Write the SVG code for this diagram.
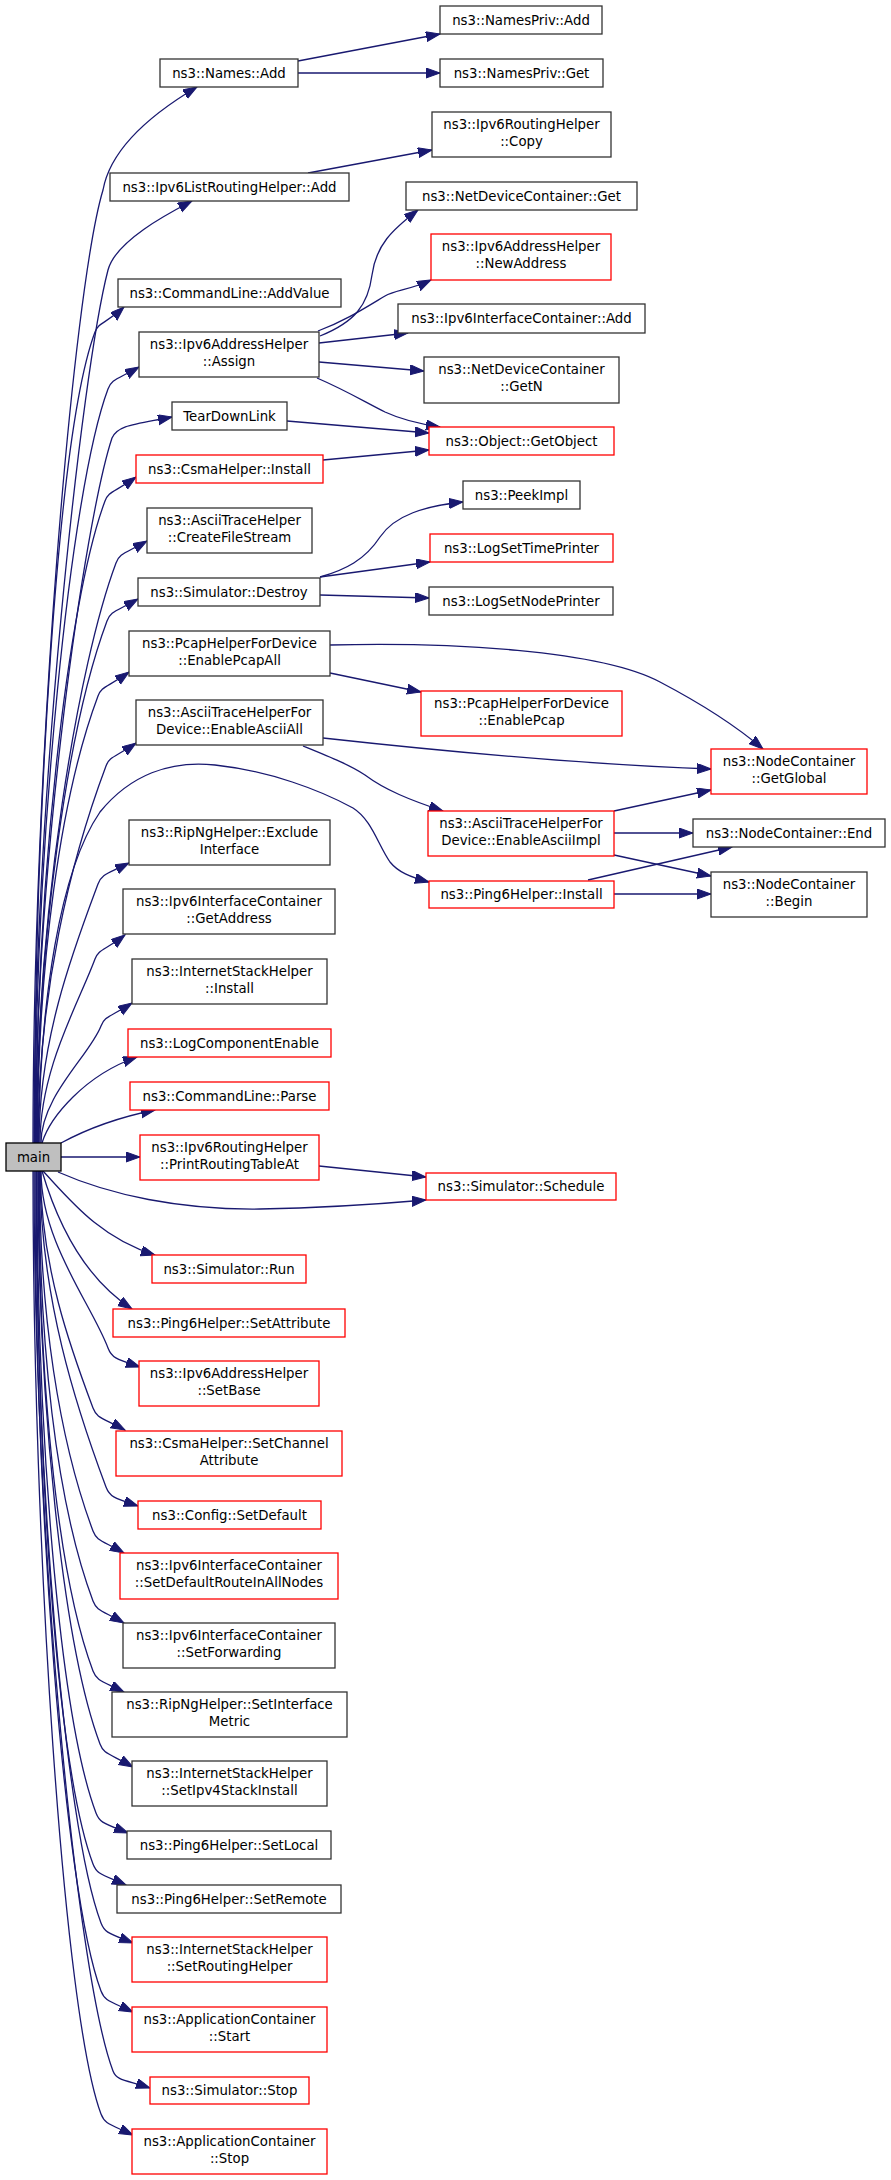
<svg xmlns="http://www.w3.org/2000/svg" width="891" height="2180" viewBox="0 0 891 2180">
<style>
rect{stroke-width:1.3}
.b{fill:#fff;stroke:#333}
.r{fill:#fff;stroke:#f00}
.m{fill:#bfbfbf;stroke:#000}
text{font-family:"DejaVu Sans","Liberation Sans",sans-serif;font-size:13.3px;text-anchor:middle;fill:#000}
#edges path{fill:none;stroke:#191970;stroke-width:1.3;marker-end:url(#a)}
</style>
<defs>
<marker id="a" markerUnits="userSpaceOnUse" markerWidth="15" markerHeight="11" refX="14" refY="5" orient="auto"><path d="M0,0 L14,5 L0,10 z" fill="#191970" stroke="#191970" stroke-width="1"/></marker>
</defs>
<rect width="891" height="2180" fill="#fff"/>
<g id="edges">
<path d="M298,61 L440,34"/>
<path d="M298,73 L440,73"/>
<path d="M308,173 L432,150"/>
<path d="M320,336 C355,322 368,305 372,275 C376,245 392,230 418,210"/>
<path d="M318,331 C345,321 365,308 385,296 C395,290 410,290 431,280"/>
<path d="M319,343 L408,333"/>
<path d="M319,362 L424,371"/>
<path d="M317,378 C345,390 365,402 385,412 C400,419 420,424 440,427"/>
<path d="M287,421 L429,433"/>
<path d="M323,460 L429,450"/>
<path d="M320,577 C345,570 365,560 380,537 C395,515 425,506 463,502"/>
<path d="M320,577 L430,562"/>
<path d="M320,595 L429,598"/>
<path d="M330,645 C450,642 600,650 660,682 C700,703 735,725 763,749"/>
<path d="M330,673 L421,692"/>
<path d="M323,738 C450,752 600,765 711,769"/>
<path d="M303,746 C330,757 350,765 365,775 C385,790 410,800 443,811"/>
<path d="M614,811 L711,790"/>
<path d="M614,833 L693,833"/>
<path d="M614,855 L711,876"/>
<path d="M588,880 L732,847"/>
<path d="M614,894 L711,894"/>
<path d="M61,1157 L140,1157"/>
<path d="M319,1166 L426,1177"/>
<path d="M58,1172 C110,1195 180,1210 260,1209 C320,1208 380,1204 426,1200"/>
<path d="M33,1143 C33,762 73,290 103,190 C112,140 170,103 197,87"/>
<path d="M34,1143 C34,800 82,370 108,270 C116,240 171,212 192,201"/>
<path d="M34.5,1143 C34.5,819 57.5,432 95,332 C98.8,322 104.8,324.6 124,307"/>
<path d="M35,1143 C35,841 70.5,489 108,389 C111.8,379 116.6,379.8 139,367"/>
<path d="M35.5,1143 C35.5,860 85,520 112,438 C118,425 134.5,424.5 172,417"/>
<path d="M36,1143 C36,886 67.5,601 105,501 C108.8,491 113.6,493 136,477"/>
<path d="M36.5,1143 C36.5,911 78.5,663 116,563 C119.8,553 124.6,553.8 147,541"/>
<path d="M37,1143 C37,934 69.5,721 107,621 C110.8,611 115.6,611.8 138,599"/>
<path d="M37.5,1143 C37.5,964 60.5,796 98,696 C101.8,686 106.6,688 129,672"/>
<path d="M38,1143 C38,992 70.7,860 106,766 C109.8,756 115.2,757.4 136,743"/>
<path d="M38.5,1143 C40,1000 60,870 100,812 C130,775 170,760 215,765 C270,771 320,790 353,808 C372,820 378,845 390,862 C398,872 410,877 429,882"/>
<path d="M39,1143 C39,1039 73.7,949 98,884 C101.8,874 106.6,874.2 129,863"/>
<path d="M40,1143 C40,1069 77.8,1005 95,959 C98.8,949 104.2,951 125,935"/>
<path d="M41,1143 C41,1096 90,1055 101,1026 C104.8,1016 109.6,1017.4 132,1003"/>
<path d="M42,1143 C50,1117 85,1075 137,1057"/>
<path d="M61,1143 C85,1130 115,1118 155,1110"/>
<path d="M43,1171 C70,1200 100,1238 155,1255"/>
<path d="M42,1171 C55,1215 80,1275 132,1309"/>
<path d="M41,1171 C41,1242 91.4,1304 108,1348 C111.8,1358 116,1359 140,1367"/>
<path d="M40.5,1171 C40.5,1266 70.8,1349 93,1408 C96.8,1418 101,1417.2 125,1430"/>
<path d="M40,1171 C40,1297 76.4,1408 106,1487 C109.8,1497 114,1498 138,1506"/>
<path d="M39.5,1171 C39.5,1315 59.3,1441 93,1531 C96.8,1541 101.6,1540.2 124,1553"/>
<path d="M39,1171 C39,1343 55.5,1501 93,1601 C96.8,1611 101.6,1610.2 124,1623"/>
<path d="M38.5,1171 C38.5,1371 55.5,1571 93,1671 C96.8,1681 101.6,1680.8 124,1692"/>
<path d="M38,1171 C38,1400 62.5,1644 100,1744 C103.8,1754 107.4,1752.6 133,1767"/>
<path d="M37,1171 C37,1428 58.5,1713 96,1813 C99.8,1823 104,1823.4 128,1833"/>
<path d="M36.5,1171 C36.5,1448 55.5,1764 93,1864 C96.8,1874 100.4,1873.8 126,1885"/>
<path d="M36,1171 C36,1472 63.5,1823 101,1923 C104.8,1933 109,1933.4 133,1943"/>
<path d="M35,1171 C35,1499 63.5,1891 101,1991 C104.8,2001 109,2000.8 133,2012"/>
<path d="M34,1171 C34,1530 75.5,1971 113,2071 C116.8,2081 126,2080 150,2088"/>
<path d="M33,1171 C33,1548 63.5,2014 101,2114 C104.8,2124 109,2123.8 133,2135"/>
</g>
<g id="n1"><rect class="b" x="160" y="59" width="138" height="28"/><text x="229" y="77.5">ns3::Names::Add</text></g>
<g id="n2"><rect class="b" x="440" y="6" width="162" height="28"/><text x="521" y="24.5">ns3::NamesPriv::Add</text></g>
<g id="n3"><rect class="b" x="440" y="59" width="163" height="28"/><text x="521.5" y="77.5">ns3::NamesPriv::Get</text></g>
<g id="n4"><rect class="b" x="432" y="112" width="179" height="45"/><text x="521.5" y="129">ns3::Ipv6RoutingHelper</text><text x="521.5" y="146">::Copy</text></g>
<g id="n5"><rect class="b" x="110" y="173" width="239" height="28"/><text x="229.5" y="191.5">ns3::Ipv6ListRoutingHelper::Add</text></g>
<g id="n6"><rect class="b" x="406" y="182" width="231" height="28"/><text x="521.5" y="200.5">ns3::NetDeviceContainer::Get</text></g>
<g id="n7"><rect class="r" x="431" y="234" width="180" height="46"/><text x="521" y="251">ns3::Ipv6AddressHelper</text><text x="521" y="268">::NewAddress</text></g>
<g id="n8"><rect class="b" x="118" y="279" width="223" height="28"/><text x="229.5" y="297.5">ns3::CommandLine::AddValue</text></g>
<g id="n9"><rect class="b" x="398" y="304" width="247" height="29"/><text x="521.5" y="322.5">ns3::Ipv6InterfaceContainer::Add</text></g>
<g id="n10"><rect class="b" x="139" y="332" width="180" height="45"/><text x="229" y="349">ns3::Ipv6AddressHelper</text><text x="229" y="366">::Assign</text></g>
<g id="n11"><rect class="b" x="424" y="357" width="195" height="46"/><text x="521.5" y="374">ns3::NetDeviceContainer</text><text x="521.5" y="391">::GetN</text></g>
<g id="n12"><rect class="r" x="429" y="427" width="185" height="28"/><text x="521.5" y="445.5">ns3::Object::GetObject</text></g>
<g id="n13"><rect class="b" x="172" y="402" width="115" height="28"/><text x="229.5" y="420.5">TearDownLink</text></g>
<g id="n14"><rect class="r" x="136" y="455" width="187" height="28"/><text x="229.5" y="473.5">ns3::CsmaHelper::Install</text></g>
<g id="n15"><rect class="b" x="463" y="481" width="117" height="28"/><text x="521.5" y="499.5">ns3::PeekImpl</text></g>
<g id="n16"><rect class="b" x="147" y="508" width="165" height="45"/><text x="229.5" y="525">ns3::AsciiTraceHelper</text><text x="229.5" y="542">::CreateFileStream</text></g>
<g id="n17"><rect class="r" x="430" y="534" width="183" height="28"/><text x="521.5" y="552.5">ns3::LogSetTimePrinter</text></g>
<g id="n18"><rect class="b" x="138" y="578" width="182" height="28"/><text x="229" y="596.5">ns3::Simulator::Destroy</text></g>
<g id="n19"><rect class="b" x="429" y="587" width="184" height="28"/><text x="521" y="605.5">ns3::LogSetNodePrinter</text></g>
<g id="n20"><rect class="b" x="129" y="631" width="201" height="45"/><text x="229.5" y="648">ns3::PcapHelperForDevice</text><text x="229.5" y="665">::EnablePcapAll</text></g>
<g id="n21"><rect class="r" x="421" y="691" width="201" height="45"/><text x="521.5" y="708">ns3::PcapHelperForDevice</text><text x="521.5" y="725">::EnablePcap</text></g>
<g id="n22"><rect class="b" x="136" y="700" width="187" height="45"/><text x="229.5" y="717">ns3::AsciiTraceHelperFor</text><text x="229.5" y="734">Device::EnableAsciiAll</text></g>
<g id="n23"><rect class="r" x="711" y="749" width="156" height="45"/><text x="789" y="766">ns3::NodeContainer</text><text x="789" y="783">::GetGlobal</text></g>
<g id="n24"><rect class="r" x="428" y="811" width="186" height="45"/><text x="521" y="828">ns3::AsciiTraceHelperFor</text><text x="521" y="845">Device::EnableAsciiImpl</text></g>
<g id="n25"><rect class="b" x="693" y="819" width="192" height="28"/><text x="789" y="837.5">ns3::NodeContainer::End</text></g>
<g id="n26"><rect class="r" x="429" y="881" width="185" height="27"/><text x="521.5" y="899">ns3::Ping6Helper::Install</text></g>
<g id="n27"><rect class="b" x="711" y="872" width="156" height="45"/><text x="789" y="889">ns3::NodeContainer</text><text x="789" y="906">::Begin</text></g>
<g id="n28"><rect class="b" x="129" y="820" width="201" height="45"/><text x="229.5" y="837">ns3::RipNgHelper::Exclude</text><text x="229.5" y="854">Interface</text></g>
<g id="n29"><rect class="b" x="123" y="889" width="212" height="45"/><text x="229" y="906">ns3::Ipv6InterfaceContainer</text><text x="229" y="923">::GetAddress</text></g>
<g id="n30"><rect class="b" x="132" y="959" width="195" height="45"/><text x="229.5" y="976">ns3::InternetStackHelper</text><text x="229.5" y="993">::Install</text></g>
<g id="n31"><rect class="r" x="128" y="1029" width="203" height="28"/><text x="229.5" y="1047.5">ns3::LogComponentEnable</text></g>
<g id="n32"><rect class="r" x="130" y="1082" width="199" height="28"/><text x="229.5" y="1100.5">ns3::CommandLine::Parse</text></g>
<g id="n33"><rect class="m" x="6" y="1143" width="55" height="28"/><text x="33.5" y="1161.5">main</text></g>
<g id="n34"><rect class="r" x="140" y="1135" width="179" height="45"/><text x="229.5" y="1152">ns3::Ipv6RoutingHelper</text><text x="229.5" y="1169">::PrintRoutingTableAt</text></g>
<g id="n35"><rect class="r" x="426" y="1173" width="190" height="27"/><text x="521" y="1191">ns3::Simulator::Schedule</text></g>
<g id="n36"><rect class="r" x="152" y="1255" width="154" height="28"/><text x="229" y="1273.5">ns3::Simulator::Run</text></g>
<g id="n37"><rect class="r" x="113" y="1309" width="232" height="28"/><text x="229" y="1327.5">ns3::Ping6Helper::SetAttribute</text></g>
<g id="n38"><rect class="r" x="139" y="1361" width="180" height="45"/><text x="229" y="1378">ns3::Ipv6AddressHelper</text><text x="229" y="1395">::SetBase</text></g>
<g id="n39"><rect class="r" x="116" y="1431" width="226" height="45"/><text x="229" y="1448">ns3::CsmaHelper::SetChannel</text><text x="229" y="1465">Attribute</text></g>
<g id="n40"><rect class="r" x="138" y="1501" width="183" height="28"/><text x="229.5" y="1519.5">ns3::Config::SetDefault</text></g>
<g id="n41"><rect class="r" x="120" y="1553" width="218" height="46"/><text x="229" y="1570">ns3::Ipv6InterfaceContainer</text><text x="229" y="1587">::SetDefaultRouteInAllNodes</text></g>
<g id="n42"><rect class="b" x="123" y="1623" width="212" height="45"/><text x="229" y="1640">ns3::Ipv6InterfaceContainer</text><text x="229" y="1657">::SetForwarding</text></g>
<g id="n43"><rect class="b" x="112" y="1692" width="235" height="45"/><text x="229.5" y="1709">ns3::RipNgHelper::SetInterface</text><text x="229.5" y="1726">Metric</text></g>
<g id="n44"><rect class="b" x="132" y="1761" width="195" height="45"/><text x="229.5" y="1778">ns3::InternetStackHelper</text><text x="229.5" y="1795">::SetIpv4StackInstall</text></g>
<g id="n45"><rect class="b" x="127" y="1831" width="204" height="28"/><text x="229" y="1849.5">ns3::Ping6Helper::SetLocal</text></g>
<g id="n46"><rect class="b" x="117" y="1885" width="224" height="28"/><text x="229" y="1903.5">ns3::Ping6Helper::SetRemote</text></g>
<g id="n47"><rect class="r" x="132" y="1937" width="195" height="45"/><text x="229.5" y="1954">ns3::InternetStackHelper</text><text x="229.5" y="1971">::SetRoutingHelper</text></g>
<g id="n48"><rect class="r" x="132" y="2007" width="195" height="45"/><text x="229.5" y="2024">ns3::ApplicationContainer</text><text x="229.5" y="2041">::Start</text></g>
<g id="n49"><rect class="r" x="150" y="2077" width="159" height="27"/><text x="229.5" y="2095">ns3::Simulator::Stop</text></g>
<g id="n50"><rect class="r" x="132" y="2129" width="195" height="45"/><text x="229.5" y="2146">ns3::ApplicationContainer</text><text x="229.5" y="2163">::Stop</text></g>
</svg>
